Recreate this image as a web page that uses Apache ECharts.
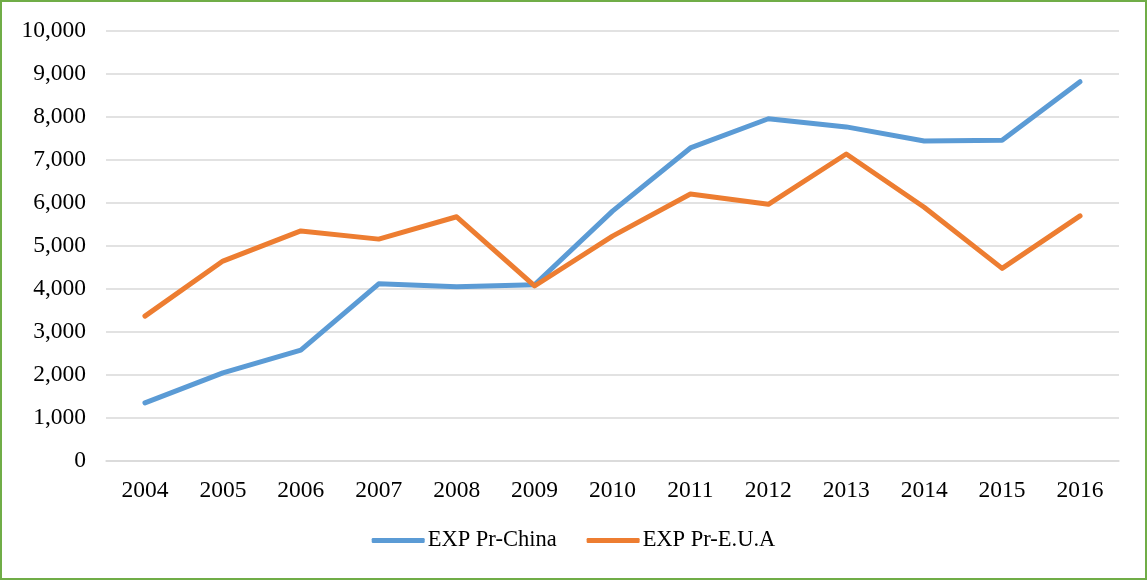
<!DOCTYPE html>
<html>
<head>
<meta charset="utf-8">
<script src="https://cdn.jsdelivr.net/npm/echarts@6/dist/echarts.min.js"></script>
<style>
    html, body { margin: 0; padding: 0; background: #fff; }
    #chart { width: 1147px; height: 580px; box-sizing: border-box; border: 2px solid #70AD47; }
</style>
</head>
<body>
<div id="chart"></div>
<script>
let years = ["2004", "2005", "2006", "2007", "2008", "2009", "2010", "2011", "2012", "2013", "2014", "2015", "2016"];
let expChina = [1350, 2050, 2580, 4120, 4050, 4100, 5810, 7280, 7960, 7770, 7440, 7460, 8820];
let expEUA = [3370, 4650, 5350, 5160, 5680, 4070, 5230, 6210, 5970, 7140, 5900, 4480, 5700];

let chartDom = document.getElementById("chart");
let chart = echarts.init(chartDom);
let font = "'Liberation Serif', 'Times New Roman', serif";

let option = {
    animation: false,
    color: ["#5B9BD5", "#ED7D31"],
    grid: {
        left: 104,
        right: 26,
        top: 29,
        bottom: 117
    },
    legend: {
        bottom: 21,
        left: "center",
        itemWidth: 53,
        itemHeight: 5,
        itemGap: 30,
        icon: "roundRect",
        textStyle: { fontFamily: font, fontSize: 22.5, color: "#000", padding: [0, 0, 0, -2] },
        data: ["EXP Pr-China", "EXP Pr-E.U.A"]
    },
    xAxis: {
        type: "category",
        data: years,
        boundaryGap: true,
        axisLine: { lineStyle: { color: "#D9D9D9", width: 1.5 } },
        axisTick: { show: false },
        axisLabel: { fontFamily: font, fontSize: 23.5, color: "#000", margin: 18 }
    },
    yAxis: {
        type: "value",
        min: 0,
        max: 10000,
        interval: 1000,
        axisLine: { show: false },
        axisTick: { show: false },
        splitLine: { lineStyle: { color: "#D9D9D9", width: 1.5 } },
        axisLabel: {
            fontFamily: font,
            fontSize: 23.5,
            color: "#000",
            margin: 20,
            formatter: v => v.toLocaleString("en-US")
        }
    },
    series: [
        {
            name: "EXP Pr-China",
            type: "line",
            data: expChina,
            showSymbol: false,
            lineStyle: { width: 5, cap: "round", join: "round" }
        },
        {
            name: "EXP Pr-E.U.A",
            type: "line",
            data: expEUA,
            showSymbol: false,
            lineStyle: { width: 5, cap: "round", join: "round" }
        }
    ]
};
chart.setOption(option);
</script>
</body>
</html>
